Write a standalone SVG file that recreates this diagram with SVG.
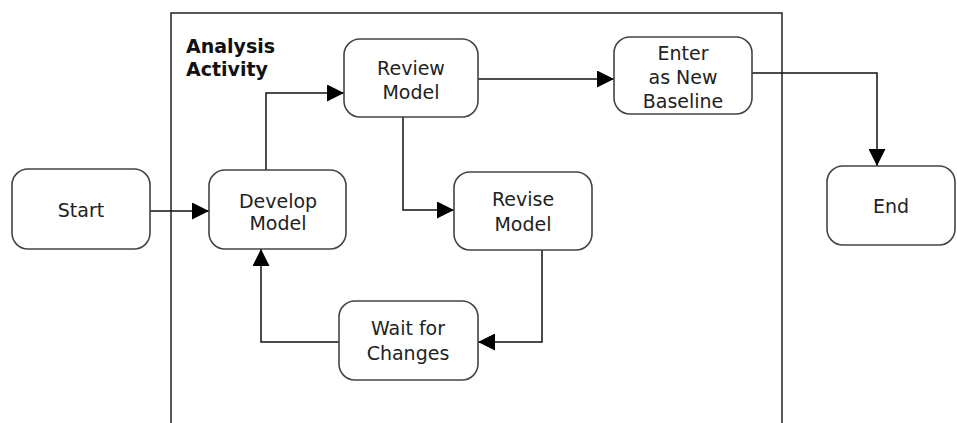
<svg xmlns="http://www.w3.org/2000/svg" width="957" height="423" viewBox="0 0 957 423">
<style>
.box{fill:#fff;stroke:#444;stroke-width:1.6}
.t{font-family:"DejaVu Sans",Verdana,sans-serif;font-size:19px;fill:#222;text-anchor:middle}
.b{font-family:"DejaVu Sans",Verdana,sans-serif;font-size:19px;font-weight:bold;fill:#111}
.c{fill:none;stroke:#111;stroke-width:1.5}
</style>
<defs>
<marker id="ah" viewBox="0 0 10 10" refX="10" refY="5" markerWidth="17" markerHeight="17" markerUnits="userSpaceOnUse" orient="auto">
<path d="M0,0 L10,5 L0,10 Z" fill="#000"/>
</marker>
</defs>
<g id="container">
<path d="M171,423 V13 H782 V423" fill="none" stroke="#222" stroke-width="1.5"/>
<text class="b" x="186" y="53">Analysis</text>
<text class="b" x="186" y="76">Activity</text>
</g>
<g id="connectors">
<path class="c" d="M150,211 H209" stroke="#555" stroke-width="1.2" marker-end="url(#ah)"/>
<path class="c" d="M266,170 V93 H344" marker-end="url(#ah)"/>
<path class="c" d="M478,79 H614" marker-end="url(#ah)"/>
<path class="c" d="M752,73 H877 V166" marker-end="url(#ah)"/>
<path class="c" d="M403,117 V210 H454" marker-end="url(#ah)"/>
<path class="c" d="M542,250 V342 H478" marker-end="url(#ah)"/>
<path class="c" d="M339,342 H261 V249" marker-end="url(#ah)"/>
</g>
<g id="start">
<rect class="box" x="12" y="169" width="138" height="80" rx="16"/>
<text class="t" x="81" y="217">Start</text>
</g>
<g id="develop">
<rect class="box" x="209" y="170" width="137" height="79" rx="16"/>
<text class="t" x="278" y="208">Develop</text>
<text class="t" x="278" y="230">Model</text>
</g>
<g id="review">
<rect class="box" x="344" y="39" width="134" height="78" rx="16"/>
<text class="t" x="411" y="75">Review</text>
<text class="t" x="411" y="99">Model</text>
</g>
<g id="enter">
<rect class="box" x="614" y="37" width="138" height="77" rx="16"/>
<text class="t" x="683" y="60">Enter</text>
<text class="t" x="683" y="84">as New</text>
<text class="t" x="683" y="108">Baseline</text>
</g>
<g id="revise">
<rect class="box" x="454" y="172" width="138" height="78" rx="16"/>
<text class="t" x="523" y="206">Revise</text>
<text class="t" x="523" y="231">Model</text>
</g>
<g id="wait">
<rect class="box" x="339" y="301" width="139" height="79" rx="16"/>
<text class="t" x="408" y="335">Wait for</text>
<text class="t" x="408" y="360">Changes</text>
</g>
<g id="end">
<rect class="box" x="827" y="166" width="128" height="79" rx="16"/>
<text class="t" x="891" y="213">End</text>
</g>
</svg>
